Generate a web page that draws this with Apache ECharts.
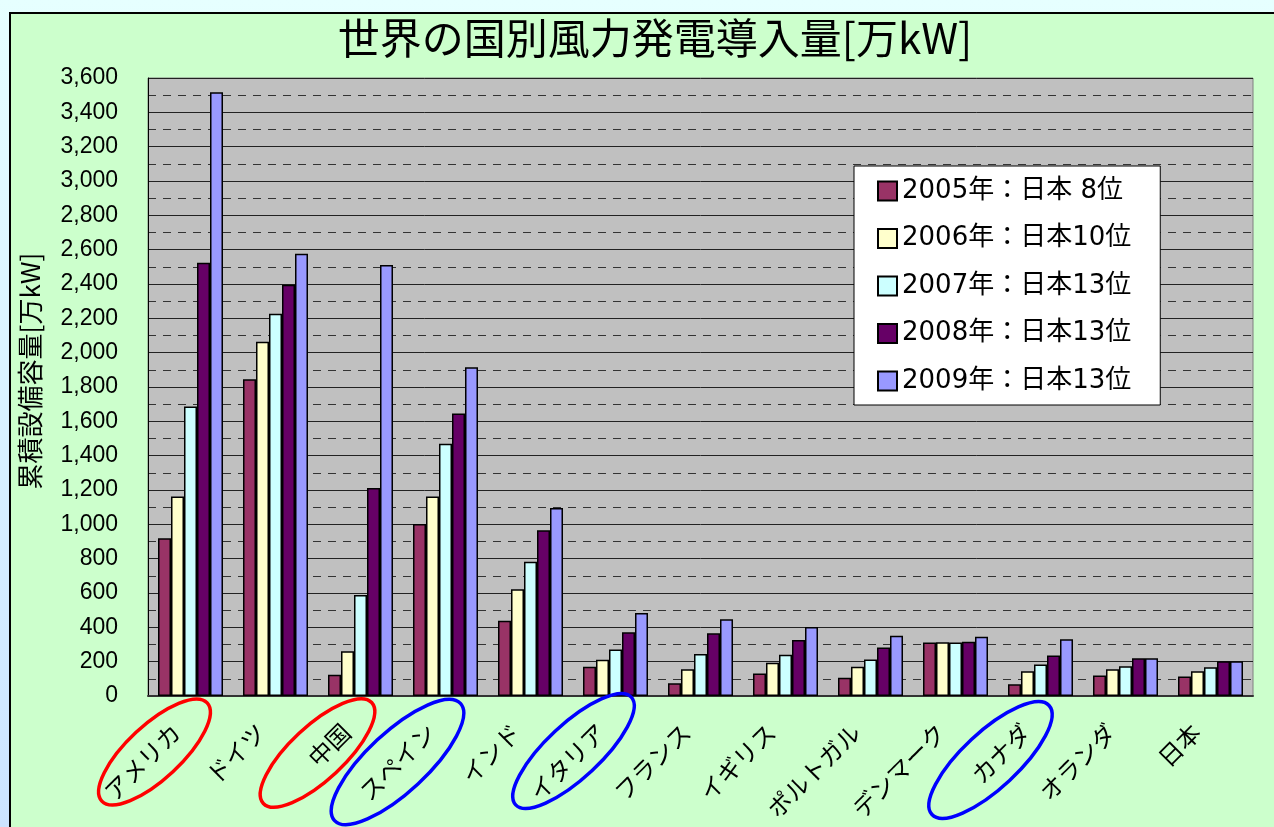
<!DOCTYPE html>
<html>
<head>
<meta charset="utf-8">
<script src="https://cdn.jsdelivr.net/npm/echarts@6/dist/echarts.min.js"></script>
<style>
  html, body { margin: 0; padding: 0; }
  body { width: 1274px; height: 827px; overflow: hidden; background: linear-gradient(#E6FFFF, #CCE4FF); position: relative; }
  #panel { position: absolute; left: 9px; top: 12px; width: 1300px; height: 900px; background: #CCFFCC; border-left: 2px solid #000; border-top: 2px solid #000; }
  #main { position: absolute; left: 0; top: 0; width: 1274px; height: 827px; }
</style>
</head>
<body>
<div id="panel"></div>
<div id="main"></div>
<script>
// 国別の累積設備容量 [万kW]
const countries = ['アメリカ', 'ドイツ', '中国', 'スペイン', 'インド', 'イタリア', 'フランス', 'イギリス', 'ポルトガル', 'デンマーク', 'カナダ', 'オランダ', '日本'];
const years = ['2005年：日本 8位', '2006年：日本10位', '2007年：日本13位', '2008年：日本13位', '2009年：日本13位'];
const v2005 = [919, 1845, 124, 1002, 439, 170, 74, 131, 107, 311, 68, 119, 113];
const v2006 = [1162, 2064, 260, 1162, 622, 211, 156, 193, 170, 313, 144, 156, 144];
const v2007 = [1686, 2226, 588, 1469, 782, 271, 244, 240, 213, 311, 183, 174, 168];
const v2008 = [2524, 2395, 1212, 1645, 966, 371, 365, 326, 283, 316, 236, 220, 203];
const v2009 = [3517, 2576, 2510, 1915, 1095, 484, 447, 402, 351, 345, 330, 220, 203];
const colors = ['#993366', '#FFFFCC', '#CCFFFF', '#660066', '#9999FF'];

let chart = echarts.init(document.getElementById('main'));
const jp = '"Noto Sans CJK JP", sans-serif';

let option = {
    animation: false,
    title: {
        text: '世界の国別風力発電導入量[万kW]',
        left: 650,
        top: 12,
        textAlign: 'center',
        textStyle: {fontFamily: jp, fontSize: 42, fontWeight: 'normal', color: '#000'}
    },
    legend: {
        orient: 'vertical',
        left: 854,
        top: 166,
        padding: [12, 29, 11, 23],
        itemGap: 21.5,
        itemWidth: 19,
        itemHeight: 19,
        icon: 'rect',
        backgroundColor: '#fff',
        borderColor: '#000',
        borderWidth: 1,
        borderRadius: 0,
        textStyle: {fontFamily: '"DejaVu Sans", "Noto Sans CJK JP", sans-serif', fontSize: 26, color: '#000'},
        data: years
    },
    grid: {
        left: 148, right: 21, top: 78, bottom: 131,
        show: true,
        backgroundColor: '#C0C0C0',
        borderColor: '#808080',
        borderWidth: 1
    },
    xAxis: {
        type: 'category',
        data: countries,
        axisLine: {lineStyle: {color: '#333', width: 2}},
        axisTick: {inside: true, length: 8, lineStyle: {color: '#333'}},
        axisLabel: {
            interval: 0,
            rotate: 45,
            margin: 18,
            padding: [0, 20, 0, 0],
            fontFamily: jp,
            fontSize: 24,
            color: '#000'
        }
    },
    yAxis: {
        type: 'value',
        min: 0,
        max: 3600,
        interval: 200,
        name: '累積設備容量[万kW]',
        nameLocation: 'middle',
        nameGap: 105,
        nameTextStyle: {fontFamily: jp, fontSize: 26, color: '#000', padding: [0, 0, 0, 32]},
        axisLine: {show: true, lineStyle: {color: '#000', width: 1}},
        axisTick: {show: false},
        axisLabel: {
            margin: 30,
            fontFamily: '"Liberation Sans", Arial, sans-serif',
            fontSize: 23,
            color: '#000',
            formatter: v => v.toLocaleString('en-US')
        },
        splitLine: {lineStyle: {color: '#222', width: 1}},
        minorTick: {show: false, splitNumber: 2},
        minorSplitLine: {show: true, lineStyle: {color: '#333', width: 1, type: [8, 7]}}
    },
    series: [v2005, v2006, v2007, v2008, v2009].map((d, i) => ({
        name: years[i],
        type: 'bar',
        data: d,
        barWidth: 13,
        barGap: '0%',
        itemStyle: {color: colors[i], borderColor: '#000', borderWidth: 1.5}
    }))
};
chart.setOption(option);

// 丸で囲んだ国名 (国名, x方向のずれ, 軸からの距離, 長径, 短径, 色)
const circled = [
    ['アメリカ', -36, 56, 72, 27, '#FF0000'],
    ['中国', -43, 57, 74, 27, '#FF0000'],
    ['スペイン', -48, 66, 86, 30, '#0000FF'],
    ['イタリア', -42, 55, 79, 27, '#0000FF'],
    ['カナダ', -50, 64, 80, 28, '#0000FF']
];
const baseY = chart.convertToPixel({yAxisIndex: 0}, 0);
chart.setOption({
    graphic: circled.map(c => ({
        type: 'ellipse',
        x: chart.convertToPixel({xAxisIndex: 0}, c[0]) + c[1],
        y: baseY + c[2],
        rotation: 0.75,
        shape: {cx: 0, cy: 0, rx: c[3], ry: c[4]},
        style: {fill: 'none', stroke: c[5], lineWidth: 3.5},
        z: 100
    }))
});
</script>
</body>
</html>
